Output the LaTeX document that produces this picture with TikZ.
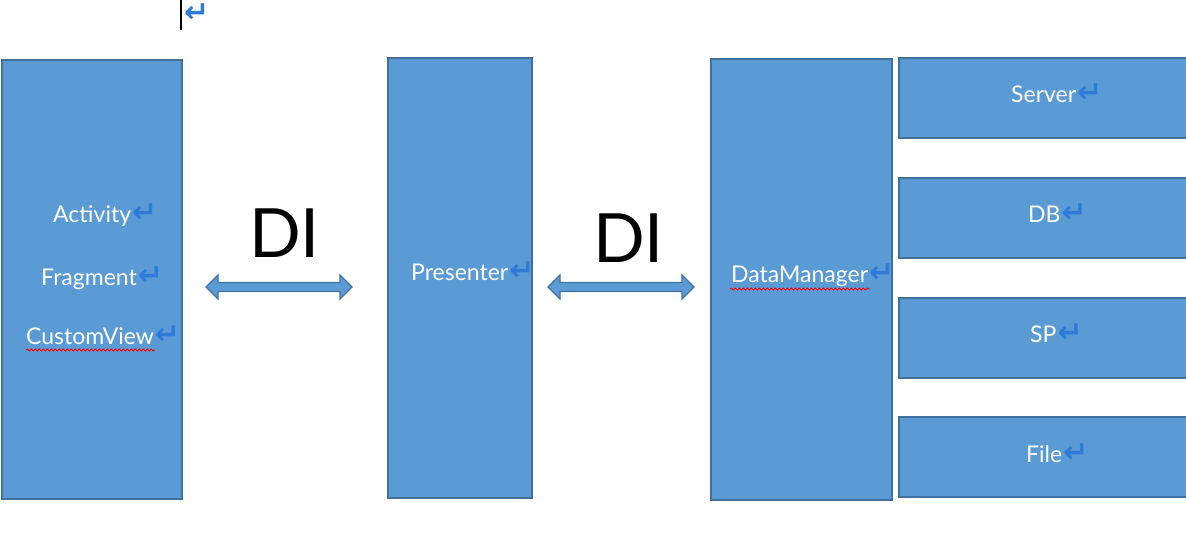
\documentclass[tikz,border=0pt]{standalone}
\usepackage{fontspec}
\setmainfont{Lato}
\newfontfamily\markfont{DejaVu Sans Bold}
\usetikzlibrary{decorations.pathmorphing}

\definecolor{boxblue}{HTML}{5B9BD5}
\definecolor{boxline}{HTML}{41719C}
\definecolor{markblue}{HTML}{2F7BD8}
\newcommand{\pmark}{\kern1pt{\markfont\color{markblue}\fontsize{30}{30}\selectfont ↵}}

\tikzset{
  layer/.style={draw=boxline, line width=1.8pt, fill=boxblue, anchor=north west, inner sep=0pt},
  lbl/.style={text=white, font=\fontsize{23}{23}\selectfont, anchor=base west, inner sep=0pt},
  di/.style={font=\fontsize{68}{68}\selectfont, anchor=base west, inner sep=0pt},
  link/.style={draw=boxline, line width=1.2pt, fill=boxblue},
  squiggle/.style={draw=red, line width=0.8pt, decorate, decoration={snake, amplitude=1pt, segment length=4pt}}
}

\begin{document}
\begin{tikzpicture}[x=1pt,y=-1pt]
\useasboundingbox (0,0) rectangle (1186,536);
% cursor and empty paragraph
\draw[line width=1.5pt] (181,0) -- (181,30);
\node[anchor=base west, inner sep=0pt] (para) at (183,22) {\pmark};
% view layer
\node[layer, minimum width=180, minimum height=439] (view) at (1,59) {};
\node[lbl] (activity) at (53,222) {Activity\pmark};
\node[lbl] (fragment) at (41,285) {Fragment\pmark};
\node[lbl] (custom) at (26,344) {CustomView\pmark};
\draw[squiggle] (26,350) -- (155,350);
% presenter
\node[layer, minimum width=144, minimum height=440] (presenter) at (387,57) {};
\node[lbl] (ptext) at (411,280) {Presenter\pmark};
% data layer
\node[layer, minimum width=181, minimum height=441] (data) at (710,58) {};
\node[lbl] (dtext) at (731,282) {DataManager\pmark};
\draw[squiggle] (730,289) -- (870,289);
\node[layer, minimum width=300, minimum height=80] (server) at (898,57) {};
\node[layer, minimum width=300, minimum height=80] (db) at (898,177) {};
\node[layer, minimum width=300, minimum height=80] (sp) at (898,297) {};
\node[layer, minimum width=300, minimum height=80] (file) at (898,416) {};
\node[lbl] (stext) at (1011,102) {Server\pmark};
\node[lbl] (dbtext) at (1028,222) {DB\pmark};
\node[lbl] (sptext) at (1030,342) {SP\pmark};
\node[lbl] (ftext) at (1026,462) {File\pmark};
% DI links
\node[di] (di1) at (249,257) {DI};
\node[di] (di2) at (593,262) {DI};
\draw[link] (206,287) -- ++(12,-12) -- ++(0,7.5) -- ++(122,0) -- ++(0,-7.5) -- ++(12,12)
  -- ++(-12,12) -- ++(0,-7.5) -- ++(-122,0) -- ++(0,7.5) -- cycle;
\draw[link] (548,287) -- ++(12,-12) -- ++(0,7.5) -- ++(122,0) -- ++(0,-7.5) -- ++(12,12)
  -- ++(-12,12) -- ++(0,-7.5) -- ++(-122,0) -- ++(0,7.5) -- cycle;
\end{tikzpicture}
\end{document}
